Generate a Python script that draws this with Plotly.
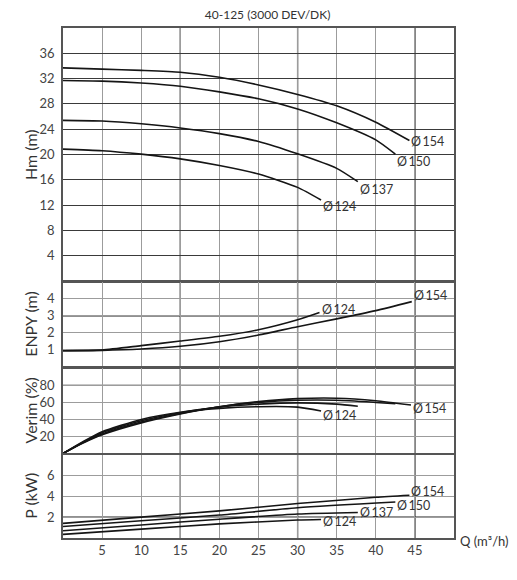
import plotly.graph_objects as go
from plotly.subplots import make_subplots

# pump curves 40-125, 3000 rpm
q_154 = [0, 5, 10, 15, 20, 25, 30, 35, 40, 44.3]
h_154 = [33.7, 33.5, 33.3, 33.0, 32.2, 31.0, 29.5, 27.7, 25.1, 22.2]
q_150 = [0, 5, 10, 15, 20, 25, 30, 35, 40, 42.5]
h_150 = [31.7, 31.6, 31.3, 30.8, 29.9, 28.8, 27.2, 25.0, 22.3, 20.05]
q_137 = [0, 5, 10, 15, 20, 25, 30, 35, 37.7]
h_137 = [25.4, 25.3, 24.85, 24.2, 23.3, 22.05, 20.1, 17.8, 15.7]
q_124 = [0, 5, 10, 15, 20, 25, 30, 33]
h_124 = [20.85, 20.6, 20.05, 19.3, 18.25, 16.9, 14.8, 12.8]

# NPSH (ENPY)
npsh_q_124 = [0, 5, 10, 15, 20, 25, 30, 32.8]
npsh_124 = [0.94, 0.98, 1.24, 1.51, 1.79, 2.18, 2.77, 3.2]
npsh_q_154 = [0, 5, 10, 15, 20, 25, 30, 35, 40, 44.6]
npsh_154 = [0.94, 0.96, 1.04, 1.2, 1.47, 1.87, 2.36, 2.82, 3.31, 3.84]

# efficiency (Verim)
eff_q_154 = [0, 2.5, 5, 10, 15, 20, 25, 30, 35, 40, 44.5]
eff_154 = [0, 12, 22, 36, 46.5, 55, 61, 64.5, 65, 62, 57]
eff_q_150 = [0, 2.5, 5, 10, 15, 20, 25, 30, 35, 40, 42.5]
eff_150 = [0, 12.5, 23, 37, 47, 55, 60, 62.5, 62.5, 60, 58.5]
eff_q_137 = [0, 2.5, 5, 10, 15, 20, 25, 30, 35, 37.7]
eff_137 = [0, 13, 24.5, 38.5, 48, 54.5, 58, 59.5, 58, 55.5]
eff_q_124 = [0, 2.5, 5, 10, 15, 20, 25, 30, 33]
eff_124 = [0, 13.5, 25.5, 40, 48.5, 53, 55, 54.5, 50]

# shaft power
p_q_154 = [0, 10, 20, 30, 40, 44.3]
p_154 = [1.4, 2.0, 2.6, 3.3, 3.9, 4.1]
p_q_150 = [0, 10, 20, 30, 42.5]
p_150 = [1.1, 1.65, 2.2, 2.9, 3.45]
p_q_137 = [0, 10, 20, 30, 37.7]
p_137 = [0.7, 1.25, 1.8, 2.3, 2.45]
p_q_124 = [0, 10, 20, 30, 33]
p_124 = [0.35, 0.85, 1.35, 1.72, 1.77]

q_ticks = [5, 10, 15, 20, 25, 30, 35, 40, 45]

FONT = "Lato"
TXT = "#333333"
LINE = "#151515"

fig = make_subplots(rows=4, cols=1, shared_xaxes=False)

# (row, x, y, label, label yshift)
curves = [
    (1, q_154, h_154, "Ø\u2009154", -1),
    (1, q_150, h_150, "Ø\u2009150", -7),
    (1, q_137, h_137, "Ø\u2009137", -8),
    (1, q_124, h_124, "Ø\u2009124", -6),
    (2, npsh_q_124, npsh_124, "Ø\u2009124", 3),
    (2, npsh_q_154, npsh_154, "Ø\u2009154", 6),
    (3, eff_q_154, eff_154, "Ø\u2009154", -3),
    (3, eff_q_150, eff_150, None, 0),
    (3, eff_q_137, eff_137, None, 0),
    (3, eff_q_124, eff_124, "Ø\u2009124", -5),
    (4, p_q_154, p_154, "Ø\u2009154", 4),
    (4, p_q_150, p_150, "Ø\u2009150", -4),
    (4, p_q_137, p_137, "Ø\u2009137", 0),
    (4, p_q_124, p_124, "Ø\u2009124", -2),
]

for row, xs, ys, lab, ysh in curves:
    fig.add_trace(go.Scatter(x=xs, y=ys, mode="lines", line=dict(color=LINE, width=1.6, shape="spline", smoothing=0.6),
                             showlegend=False, hoverinfo="skip"), row=row, col=1)
    if lab:
        sfx = "" if row == 1 else str(row)
        fig.add_annotation(x=xs[-1], y=ys[-1], xref="x" + sfx, yref="y" + sfx, text=lab, showarrow=False,
                           xanchor="left", yanchor="middle", xshift=1, yshift=ysh, borderpad=0,
                           font=dict(family=FONT, size=12.5, color=TXT))

# panel layout (domains)
domains = [[0.504, 1.0], [0.336, 0.502], [0.1657, 0.3325], [0.0, 0.1637]]
y_ranges = [[0, 40], [0, 5], [0, 100], [0, 8]]
y_ticks = [[4, 8, 12, 16, 20, 24, 28, 32, 36], [1, 2, 3, 4], [20, 40, 60, 80], [2, 4, 6]]
y_titles = ["Hm (m)", "ENPY (m)", "Verim (%)", "P (kW)"]
y_grid = ["#3a3a3a", "#9c9c9c", "#9c9c9c", "#9c9c9c"]
dark_h = [None, 3, 80, 2]

for i in range(4):
    sfx = "" if i == 0 else str(i + 1)
    fig.layout["yaxis" + sfx].update(
        domain=domains[i], range=y_ranges[i], tickvals=y_ticks[i], showgrid=True, gridcolor=y_grid[i],
        gridwidth=1.2, zeroline=False, showline=True, mirror=True, linecolor="#555555", linewidth=1.5,
        ticks="", tickfont=dict(family=FONT, size=13, color="#444444"), ticklabelstandoff=4)
    fig.layout["xaxis" + sfx].update(
        range=[0, 50], tickvals=q_ticks, showgrid=True, gridcolor="#9c9c9c", gridwidth=1.2,
        zeroline=False, showline=True, mirror=True, linecolor="#555555", linewidth=1.5, ticks="",
        showticklabels=(i == 3), tickfont=dict(family=FONT, size=13, color="#444444"),
        matches="x4" if i < 3 else None)
    # darker verticals every 15
    for xv in [15, 30, 45]:
        fig.add_shape(type="line", xref="x" + sfx, yref="y" + sfx + " domain", x0=xv, x1=xv, y0=0, y1=1,
                      line=dict(color="#222222", width=1.3), layer="below")
    if dark_h[i] is not None:
        fig.add_shape(type="line", xref="x" + sfx + " domain", yref="y" + sfx, x0=0, x1=1,
                      y0=dark_h[i], y1=dark_h[i], line=dict(color="#222222", width=1.3), layer="below")
    fig.add_annotation(text=y_titles[i], xref="paper", yref="y" + sfx + " domain", x=-0.083, y=0.5,
                       textangle=-90, showarrow=False, xanchor="center", yanchor="middle",
                       font=dict(family=FONT, size=16, color=TXT))

fig.add_annotation(text="Q (m³/h)", xref="paper", yref="paper", x=1.009, y=0, xanchor="left",
                   yanchor="middle", yshift=-3, showarrow=False, font=dict(family=FONT, size=13, color=TXT))

# page body adds an 8px offset, so the figure is shrunk and margins trimmed to land on the same spots
fig.update_layout(
    width=509, height=572,
    margin=dict(l=55, r=63, t=20, b=42),
    paper_bgcolor="white", plot_bgcolor="white",
    title=dict(text="40-125 (3000 DEV/DK)", x=0.51, xanchor="center", y=1 - 7 / 572, yanchor="middle",
               font=dict(family=FONT, size=12, color=TXT)),
)

fig.write_html("out.html")
